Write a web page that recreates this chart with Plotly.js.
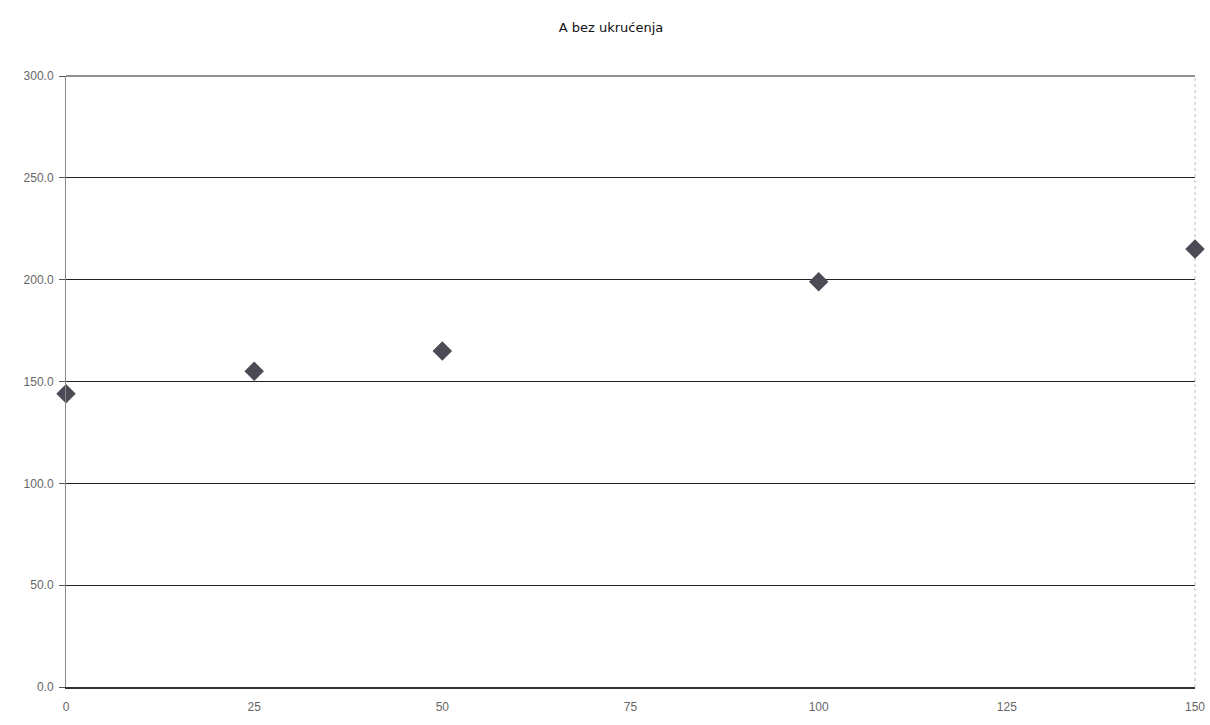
<!DOCTYPE html>
<html>
<head>
<meta charset="utf-8">
<script src="https://cdn.plot.ly/plotly-3.0.1.min.js"></script>
<style>html,body{margin:0;padding:0;background:#fff;}#chart{width:1210px;height:725px;}</style>
</head>
<body>
<div id="chart"></div>
<script>
const xValues = [0, 25, 50, 100, 150];
const yValues = [144, 155, 165, 199, 215];
const xTicks = [0, 25, 50, 75, 100, 125, 150];
const yTicks = [0, 50, 100, 150, 200, 250, 300];
const chartTitle = "A bez ukrućenja";

const trace = {
  x: xValues, y: yValues, type: 'scatter', mode: 'markers',
  marker: {symbol: 'diamond', size: 15, color: '#4b4b55'},
  cliponaxis: false, showlegend: false, hoverinfo: 'x+y'
};
const layout = {
  width: 1210, height: 725,
  paper_bgcolor: '#fff', plot_bgcolor: '#fff',
  margin: {l: 66, r: 15, t: 76, b: 38},
  font: {family: 'Liberation Sans, Arial, sans-serif', color: '#666', size: 12},
  title: {text: chartTitle, x: 0.505, xanchor: 'center', y: 0.962, yanchor: 'middle',
          font: {family: 'DejaVu Sans, sans-serif', size: 13, color: '#111'}},
  xaxis: {range: [0, 150], tickvals: xTicks, ticktext: xTicks.map(String),
          showgrid: false, zeroline: false, showline: true, linecolor: '#333', linewidth: 1.5,
          mirror: false, ticks: '', ticklen: 0, ticklabelstandoff: 8,
          tickfont: {size: 12, color: '#666'}},
  yaxis: {range: [0, 300], tickvals: yTicks, ticktext: yTicks.map(v => v.toFixed(1)),
          showgrid: true, gridcolor: '#222', gridwidth: 1, zeroline: false,
          showline: true, linecolor: '#888', linewidth: 1, ticks: 'outside', ticklen: 6, tickcolor: '#555',
          ticklabelstandoff: 3, tickfont: {size: 12, color: '#666'}},
  shapes: [
    {type: 'line', xref: 'paper', yref: 'paper', x0: 1, x1: 1, y0: 0, y1: 1, layer: 'below',
     line: {color: '#bbb', width: 1, dash: 'dot'}},
    {type: 'line', xref: 'paper', yref: 'paper', x0: 0, x1: 1, y0: 1, y1: 1, layer: 'above',
     line: {color: '#222', width: 1.2}}
  ]
};
Plotly.newPlot('chart', [trace], layout, {displayModeBar: false, staticPlot: true});
</script>
</body>
</html>
